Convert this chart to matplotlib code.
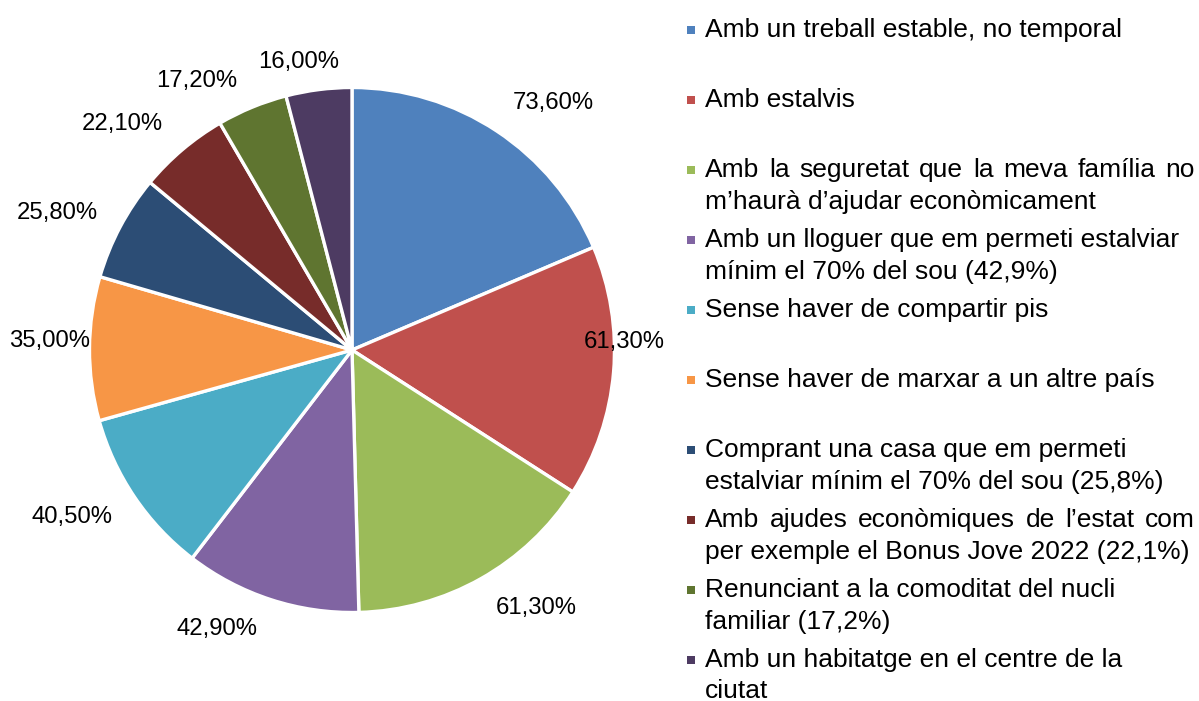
import matplotlib
matplotlib.use("Agg")
import matplotlib.pyplot as plt
from matplotlib.patches import Rectangle
import numpy as np

plt.rcParams['font.family'] = ['Liberation Sans', 'DejaVu Sans']

# ---------------- data ----------------
categories = [
    "Amb un treball estable, no temporal",
    "Amb estalvis",
    "Amb la seguretat que la meva família no\nm’haurà d’ajudar econòmicament",
    "Amb un lloguer que em permeti estalviar\nmínim el 70% del sou (42,9%)",
    "Sense haver de compartir pis",
    "Sense haver de marxar a un altre país",
    "Comprant una casa que em permeti\nestalviar mínim el 70% del sou (25,8%)",
    "Amb ajudes econòmiques de l’estat com\nper exemple el Bonus Jove 2022 (22,1%)",
    "Renunciant a la comoditat del nucli\nfamiliar (17,2%)",
    "Amb un habitatge en el centre de la\nciutat",
]
values = [73.6, 61.3, 61.3, 42.9, 40.5, 35.0, 25.8, 22.1, 17.2, 16.0]

colors = ["#4F81BD", "#C0504D", "#9BBB59", "#8064A2", "#4BACC6",
          "#F79646", "#2C4D75", "#772C2A", "#5F7530", "#4D3B62"]

# label placement style (radius factor, angular nudge in degrees)
label_r = [1.221, 1.043, 1.216, 1.188, 1.249, 1.158, 1.246, 1.235, 1.19, 1.123]
label_dth = [5.7, -6.6, -6.2, 7.8, 3.3, 1.4, -3.1, -5.3, -7.6, -3.3]
justify_first_line = [False, False, True, False, False, False, False, True, False, False]

W, H = 1199, 701
fig = plt.figure(figsize=(W / 100, H / 100), dpi=100)
ax = fig.add_axes([0, 0, 1, 1])

cx, cy, R = 352, H - 350, 262.5
wedges, _ = ax.pie(values, colors=colors, startangle=90, counterclock=False,
                   center=(cx, cy), radius=R,
                   wedgeprops=dict(edgecolor="white", linewidth=2.4))
ax.set_xlim(0, W)
ax.set_ylim(0, H)
ax.set_aspect("equal")
ax.axis("off")

# data labels
total = sum(values)
cum = np.cumsum([0] + values)
for i, v in enumerate(values):
    mid = (cum[i] + cum[i + 1]) / 2 / total * 360 + label_dth[i]
    th = np.deg2rad(mid)
    x = cx + label_r[i] * 261 * np.sin(th)
    y = cy + label_r[i] * 261 * np.cos(th)
    ax.text(x, y, f"{v:.2f}".replace(".", ",") + "%", ha="center", va="center",
            fontsize=17.2, color="#000000")

# legend (manual, Excel-like)
renderer = fig.canvas.get_renderer()
leg_fs = 19.0
text_x = 705
right_x = 1195
first_base = 37
item_step = 70
line_step = 31.5


def text_width(s):
    t = ax.text(0, 0, s, fontsize=leg_fs)
    w = t.get_window_extent(renderer).width
    t.remove()
    return w


for i, lab in enumerate(categories):
    base = first_base + i * item_step
    ax.add_patch(Rectangle((687, H - base + 3), 8, 8, facecolor=colors[i],
                           edgecolor="none"))
    for j, line in enumerate(lab.split("\n")):
        yb = H - (base + j * line_step)
        if j == 0 and justify_first_line[i] and "\n" in lab:
            words = line.split(" ")
            ws = [text_width(w_) for w_ in words]
            gap = (right_x - text_x - sum(ws)) / (len(words) - 1)
            xx = text_x
            for w_, wd in zip(words, ws):
                ax.text(xx, yb, w_, fontsize=leg_fs, va="baseline", ha="left")
                xx += wd + gap
        else:
            ax.text(text_x, yb, line, fontsize=leg_fs, va="baseline", ha="left")

fig.savefig("out.png", dpi=100, facecolor="white")
